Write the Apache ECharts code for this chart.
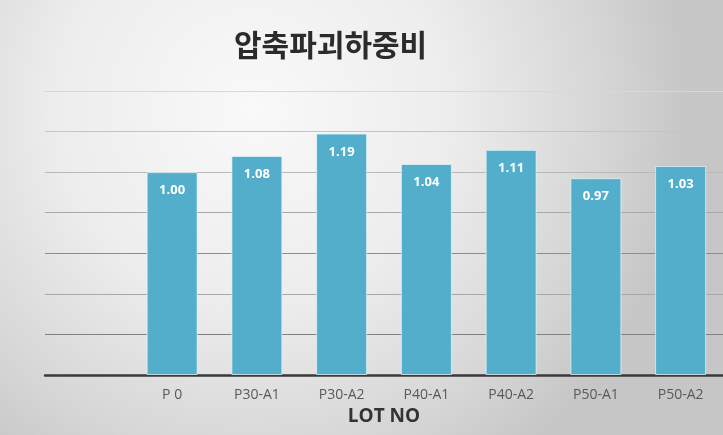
<!DOCTYPE html>
<html><head><meta charset="utf-8">
<script src="https://cdn.jsdelivr.net/npm/echarts@6/dist/echarts.min.js"></script>
<style>html,body{margin:0;padding:0;}#c{width:723px;height:435px;}</style>
</head><body><div id="c"></div>
<script>
const categories = ['', 'P 0', 'P30-A1', 'P30-A2', 'P40-A1', 'P40-A2', 'P50-A1', 'P50-A2'];
const values = [null, 1.00, 1.08, 1.19, 1.04, 1.11, 0.97, 1.03];
const titleText = '압축파괴하중비';
const xName = 'LOT NO';

const chart = echarts.init(document.getElementById('c'));
chart.setOption({
  animation: false,
  backgroundColor: {
    type: 'radial', x: 0.35, y: 0.25, r: 1.0,
    colorStops: [{offset: 0, color: '#f9f9f9'}, {offset: 0.45, color: '#ededed'}, {offset: 0.8, color: '#d6d6d6'}, {offset: 1, color: '#c6c6c6'}]
  },
  title: {
    text: titleText, left: 229, top: 25,
    textStyle: {fontFamily: 'Noto Sans CJK KR', fontSize: 30, fontWeight: 'bold', color: '#2b2b2b'}
  },
  grid: {left: 45, top: 91, width: 680, height: 284, containLabel: false},
  xAxis: {
    type: 'category', data: categories,
    name: xName, nameLocation: 'middle', nameGap: 30,
    nameTextStyle: {fontFamily: 'Open Sans', fontSize: 19, fontWeight: 'bold', color: '#333333'},
    axisLine: {lineStyle: {color: '#3a3a3a', width: 2.5}},
    axisTick: {show: false},
    axisLabel: {margin: 13, fontFamily: 'Open Sans', fontSize: 14, color: '#595959'}
  },
  yAxis: {
    type: 'value', min: 0, max: 1.4, interval: 0.2,
    axisLabel: {show: false}, axisLine: {show: false}, axisTick: {show: false},
    splitLine: {lineStyle: {width: 1.2, color: ['#3a3a3a', '#808080', '#a8a8a8', '#8c8c8c', '#a8a8a8', '#b8b8b8', '#c4c4c4', '#d8d8d8']}}
  },
  series: [{
    type: 'bar', data: values, barWidth: 51,
    itemStyle: {color: '#52AECA', borderColor: 'rgba(235,248,252,0.7)', borderWidth: 1},
    label: {
      show: true, position: 'insideTop', distance: 12,
      formatter: p => p.value.toFixed(2),
      fontFamily: 'Open Sans', fontSize: 13, fontWeight: 'bold', color: '#ffffff'
    }
  }]
});
</script></body></html>
